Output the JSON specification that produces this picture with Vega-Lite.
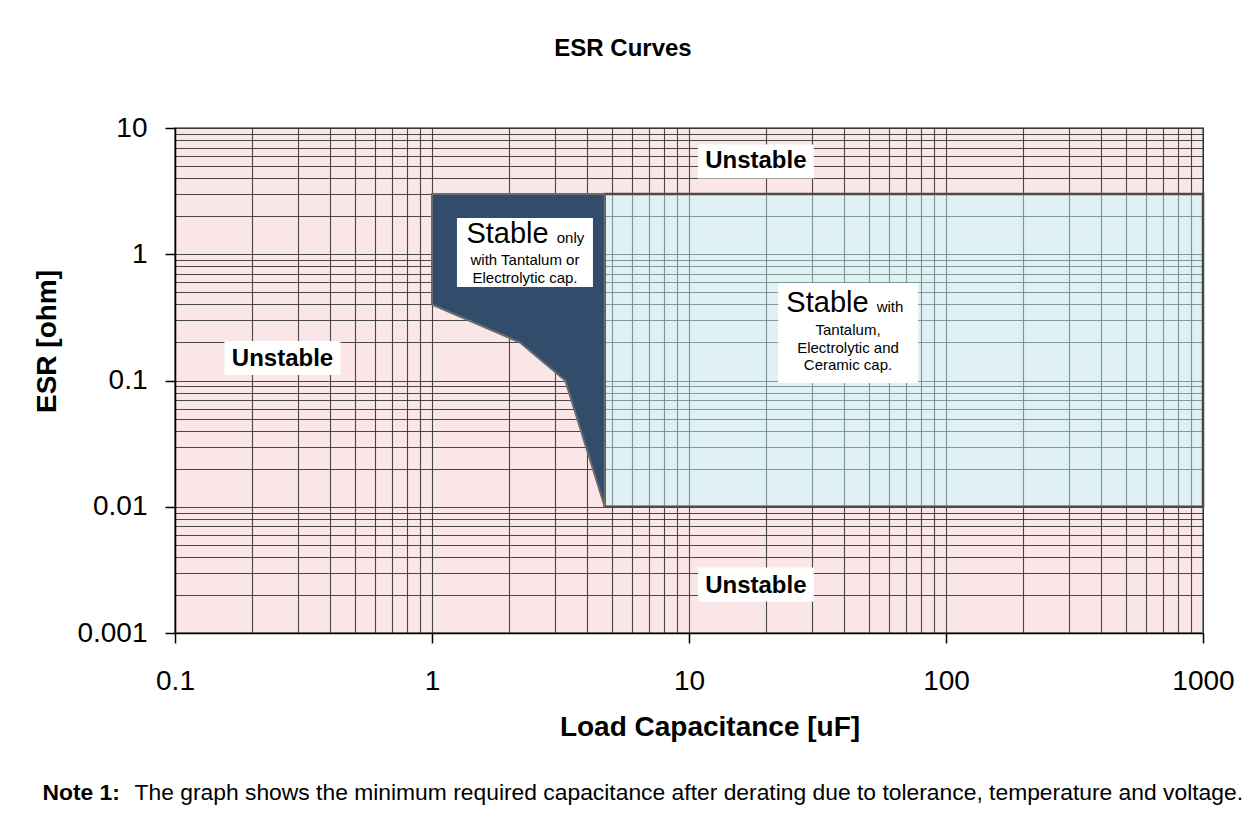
{
  "$schema": "https://vega.github.io/schema/vega-lite/v6.json",
  "width": 1028,
  "height": 505,
  "autosize": {"type": "none"},
  "padding": {"left": 175, "top": 128, "right": 49, "bottom": 195},
  "background": "white",
  "title": {
    "text": "ESR Curves",
    "font": "Liberation Sans",
    "fontSize": 24,
    "fontWeight": "bold",
    "color": "#000",
    "anchor": "middle",
    "frame": "group",
    "baseline": "alphabetic",
    "dx": -66,
    "offset": 34
  },
  "config": {
    "view": {"fill": "#fbe6e7", "stroke": "#8a8a8a", "strokeWidth": 2},
    "font": "Liberation Sans"
  },
  "datasets": {
    "region": [{"cap_lo": 4.7, "cap_hi": 1000, "esr_lo": 0.01, "esr_hi": 3}],
    "boundary": [
      {"cap": 1, "esr": 0.4},
      {"cap": 2.2, "esr": 0.2},
      {"cap": 3.3, "esr": 0.1},
      {"cap": 4.7, "esr": 0.01}
    ],
    "boxes": [
      {"cap": 18.2, "esr": 5.43, "kind": "unstable"},
      {"cap": 18.2, "esr": 0.00242, "kind": "unstable"},
      {"cap": 0.262, "esr": 0.1507, "kind": "unstable"},
      {"cap": 2.3, "esr": 1.032, "kind": "only"},
      {"cap": 41.6, "esr": 0.2378, "kind": "with"}
    ],
    "labels": [
      {"cap": 18.2, "esr": 4.82, "text": "Unstable", "style": "bold"},
      {"cap": 18.2, "esr": 0.002085, "text": "Unstable", "style": "bold"},
      {"cap": 0.262, "esr": 0.1302, "text": "Unstable", "style": "bold"},
      {"cap": 1.967, "esr": 1.228, "text": "Stable", "style": "big"},
      {"cap": 3.458, "esr": 1.228, "text": "only", "style": "small"},
      {"cap": 2.3, "esr": 0.8294, "text": "with Tantalum or", "style": "small"},
      {"cap": 2.3, "esr": 0.5953, "text": "Electrolytic cap.", "style": "small"},
      {"cap": 34.58, "esr": 0.3488, "text": "Stable", "style": "big"},
      {"cap": 60.55, "esr": 0.3488, "text": "with", "style": "small"},
      {"cap": 41.57, "esr": 0.2293, "text": "Tantalum,", "style": "small"},
      {"cap": 41.57, "esr": 0.1666, "text": "Electrolytic and", "style": "small"},
      {"cap": 41.57, "esr": 0.1211, "text": "Ceramic cap.", "style": "small"}
    ]
  },
  "resolve": {"axis": {"x": "independent", "y": "independent"}},
  "layer": [
    {
      "data": {"name": "region"},
      "mark": {"type": "rect", "fill": "#bdffff", "fillOpacity": 0.45, "stroke": "#4a4a4a", "strokeWidth": 2.5},
      "encoding": {
        "x": {
          "field": "cap_lo", "type": "quantitative",
          "scale": {"type": "log", "domain": [0.1, 1000], "nice": false},
          "axis": {
            "orient": "bottom",
            "values": [0.1,0.2,0.3,0.4,0.5,0.6,0.7,0.8,0.9,1,2,3,4,5,6,7,8,9,10,20,30,40,50,60,70,80,90,100,200,300,400,500,600,700,800,900,1000],
            "format": "~g",
            "labelExpr": "indexof([0.1,1,10,100,1000], datum.value) >= 0 ? datum.label : ''",
            "grid": true, "gridColor": "#2a2a2a", "gridOpacity": 0.85, "gridWidth": 1.1,
            "domain": true, "domainColor": "#000", "domainWidth": 1.5,
            "ticks": true, "tickSize": 10, "tickColor": "#000", "tickWidth": 1.5,
            "tickOpacity": {"condition": {"test": "indexof([0.1,1,10,100,1000], datum.value) >= 0", "value": 1}, "value": 0},
            "labelFont": "Liberation Sans", "labelFontSize": 28, "labelColor": "#000",
            "labelBaseline": "alphabetic", "labelPadding": 46, "labelFlush": false, "labelOverlap": false, "labelBound": false,
            "title": "Load Capacitance [uF]",
            "titleFont": "Liberation Sans", "titleFontSize": 28, "titleFontWeight": "bold", "titleColor": "#000",
            "titleX": 534.5, "titleY": 102, "titleBaseline": "alphabetic", "titleAlign": "center", "titleAnchor": null
          }
        },
        "x2": {"field": "cap_hi"},
        "y": {
          "field": "esr_lo", "type": "quantitative",
          "scale": {"type": "log", "domain": [0.001, 10], "nice": false},
          "axis": {
            "orient": "left",
            "values": [0.001,0.002,0.003,0.004,0.005,0.006,0.007,0.008,0.009,0.01,0.02,0.03,0.04,0.05,0.06,0.07,0.08,0.09,0.1,0.2,0.3,0.4,0.5,0.6,0.7,0.8,0.9,1,2,3,4,5,6,7,8,9,10],
            "format": "~g",
            "labelExpr": "indexof([0.001,0.01,0.1,1,10], datum.value) >= 0 ? datum.label : ''",
            "grid": true, "gridColor": "#2a2a2a", "gridOpacity": 0.85, "gridWidth": 1.1,
            "domain": true, "domainColor": "#000", "domainWidth": 1.5,
            "ticks": true, "tickSize": 10, "tickColor": "#000", "tickWidth": 1.5,
            "tickOpacity": {"condition": {"test": "indexof([0.001,0.01,0.1,1,10], datum.value) >= 0", "value": 1}, "value": 0},
            "labelFont": "Liberation Sans", "labelFontSize": 28, "labelColor": "#000",
            "labelAlign": "right", "labelBaseline": "middle", "labelPadding": 18, "labelFlush": false, "labelOverlap": false, "labelBound": false,
            "title": "ESR [ohm]",
            "titleFont": "Liberation Sans", "titleFontSize": 28, "titleFontWeight": "bold", "titleColor": "#000",
            "titleAngle": 270, "titleX": -120, "titleY": 213, "titleBaseline": "alphabetic", "titleAlign": "center", "titleAnchor": null
          }
        },
        "y2": {"field": "esr_hi"}
      }
    },
    {
      "data": {"name": "boundary"},
      "mark": {"type": "area", "fill": "#324d6b", "fillOpacity": 1, "stroke": "#6b6b6b", "strokeWidth": 2, "interpolate": "linear"},
      "encoding": {
        "x": {
          "field": "cap", "type": "quantitative",
          "axis": {
            "orient": "top", "grid": false, "domain": false, "ticks": false, "labels": false,
            "title": "Note 1:",
            "titleFont": "Liberation Sans", "titleFontSize": 22.85, "titleFontWeight": "bold", "titleColor": "#000",
            "titleX": -133, "titleY": 671, "titleBaseline": "alphabetic", "titleAlign": "left", "titleAnchor": null, "titleAngle": 0
          }
        },
        "y": {
          "field": "esr", "type": "quantitative", "stack": null,
          "axis": {
            "orient": "right", "grid": false, "domain": false, "ticks": false, "labels": false,
            "title": "The graph shows the minimum required capacitance after derating due to tolerance, temperature and voltage.",
            "titleFont": "Liberation Sans", "titleFontSize": 22.85, "titleFontWeight": "normal", "titleColor": "#000",
            "titleX": -1069, "titleY": 671, "titleBaseline": "alphabetic", "titleAlign": "left", "titleAnchor": null, "titleAngle": 0, "titleLimit": 2000
          }
        },
        "y2": {"datum": 3}
      }
    },
    {
      "data": {"name": "boxes"},
      "transform": [{"filter": "datum.kind == 'unstable'"}],
      "mark": {"type": "point", "shape": "M-1,-0.293L1,-0.293L1,0.293L-1,0.293Z", "size": 13456, "filled": true, "fill": "white", "opacity": 1, "strokeWidth": 0},
      "encoding": {
        "x": {"field": "cap", "type": "quantitative", "axis": null},
        "y": {"field": "esr", "type": "quantitative", "axis": null}
      }
    },
    {
      "data": {"name": "boxes"},
      "transform": [{"filter": "datum.kind == 'only'"}],
      "mark": {"type": "point", "shape": "M-1,-0.5074L1,-0.5074L1,0.5074L-1,0.5074Z", "size": 18496, "filled": true, "fill": "white", "opacity": 1, "strokeWidth": 0},
      "encoding": {
        "x": {"field": "cap", "type": "quantitative", "axis": null},
        "y": {"field": "esr", "type": "quantitative", "axis": null}
      }
    },
    {
      "data": {"name": "boxes"},
      "transform": [{"filter": "datum.kind == 'with'"}],
      "mark": {"type": "point", "shape": "M-1,-0.7143L1,-0.7143L1,0.7143L-1,0.7143Z", "size": 19600, "filled": true, "fill": "white", "opacity": 1, "strokeWidth": 0},
      "encoding": {
        "x": {"field": "cap", "type": "quantitative", "axis": null},
        "y": {"field": "esr", "type": "quantitative", "axis": null}
      }
    },
    {
      "data": {"name": "labels"},
      "transform": [{"filter": "datum.style == 'bold'"}],
      "mark": {"type": "text", "font": "Liberation Sans", "fontSize": 24, "fontWeight": "bold", "color": "#000", "align": "center", "baseline": "alphabetic"},
      "encoding": {
        "x": {"field": "cap", "type": "quantitative", "axis": null},
        "y": {"field": "esr", "type": "quantitative", "axis": null},
        "text": {"field": "text"}
      }
    },
    {
      "data": {"name": "labels"},
      "transform": [{"filter": "datum.style == 'big'"}],
      "mark": {"type": "text", "font": "Liberation Sans", "fontSize": 29, "fontWeight": "normal", "color": "#000", "align": "center", "baseline": "alphabetic"},
      "encoding": {
        "x": {"field": "cap", "type": "quantitative", "axis": null},
        "y": {"field": "esr", "type": "quantitative", "axis": null},
        "text": {"field": "text"}
      }
    },
    {
      "data": {"name": "labels"},
      "transform": [{"filter": "datum.style == 'small'"}],
      "mark": {"type": "text", "font": "Liberation Sans", "fontSize": 15, "fontWeight": "normal", "color": "#000", "align": "center", "baseline": "alphabetic"},
      "encoding": {
        "x": {"field": "cap", "type": "quantitative", "axis": null},
        "y": {"field": "esr", "type": "quantitative", "axis": null},
        "text": {"field": "text"}
      }
    }
  ]
}
